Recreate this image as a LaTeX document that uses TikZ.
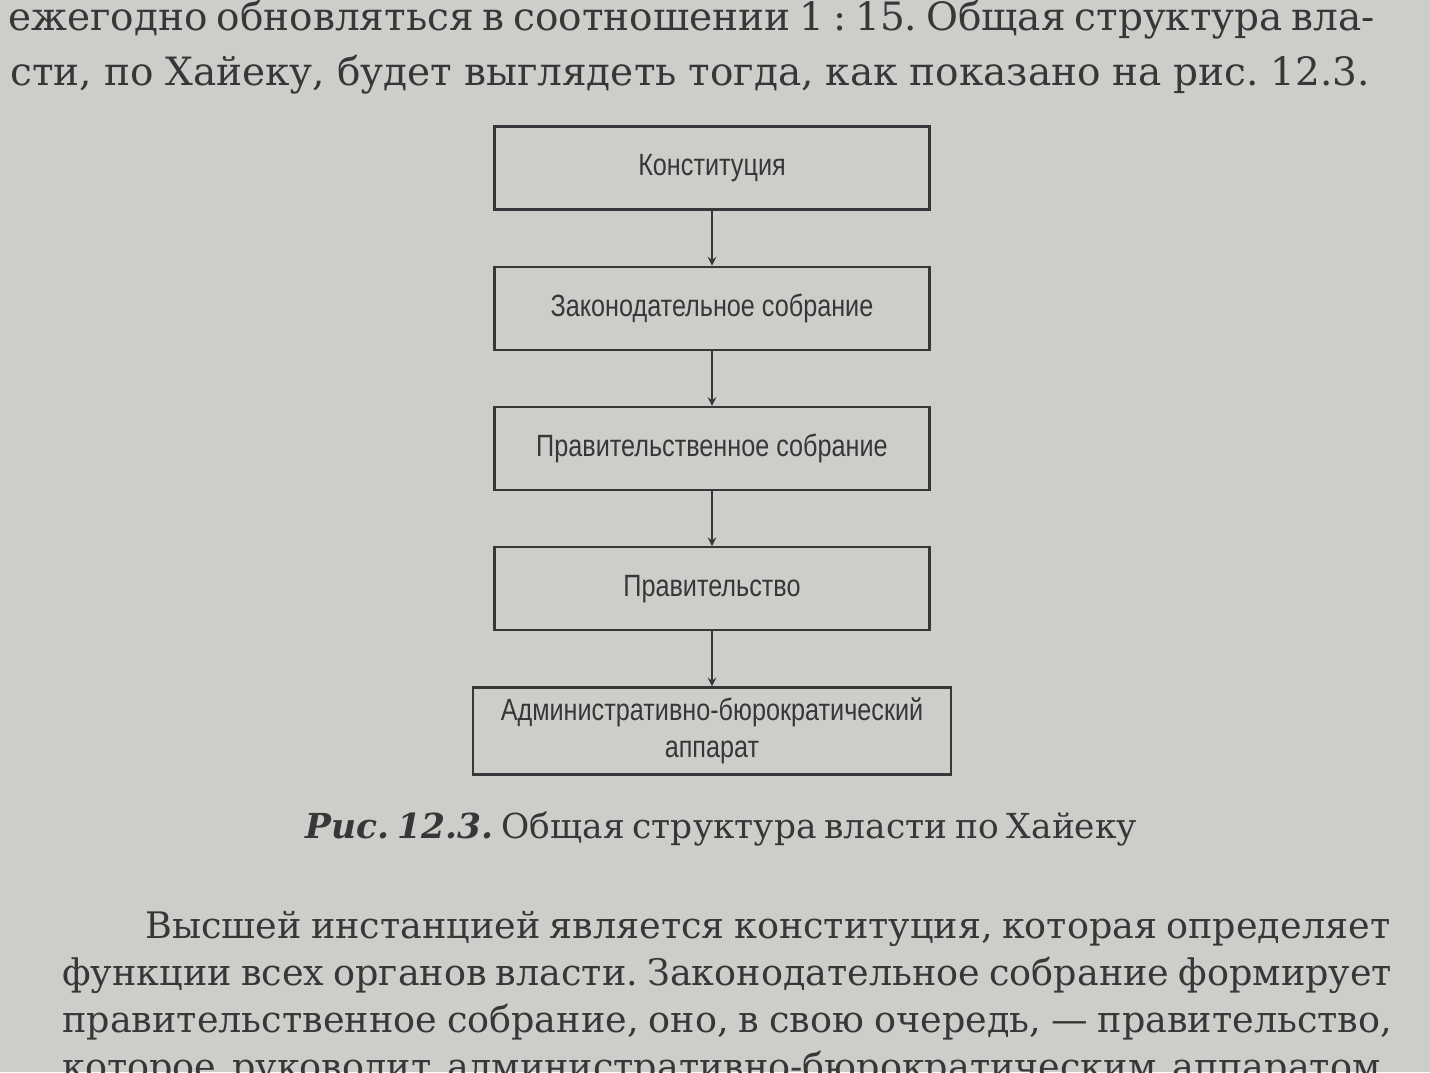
\documentclass[tikz,border=0pt]{standalone}
\usepackage{fontspec}
\setmainfont{DejaVu Serif}
\newfontfamily\schemefont[FakeStretch=0.82]{Liberation Sans}
\usetikzlibrary{positioning,arrows}
\definecolor{paper}{RGB}{205,206,202}
\definecolor{ink}{RGB}{55,55,58}
\newcommand{\bookline}[2]{\hbox to #1{#2}}
\frenchspacing

\begin{document}
\begin{tikzpicture}[x=0.02cm,y=-0.02cm,node distance=1.1cm,
	box/.style={draw=ink,line width=1.3pt,minimum width=8.7cm,minimum height=1.66cm,
		inner sep=0pt,align=center,text=ink,font=\schemefont\fontsize{17.5}{21}\selectfont},
	txt/.style={anchor=base west,inner sep=0pt,text=ink,font=\fontsize{20.8}{25}\selectfont}]
	\fill[paper] (0,0) rectangle (1430,1072);
	\useasboundingbox (0,0) rectangle (1430,1072);
	% text above the figure
	\node[txt,font=\fontsize{22.2}{27}\selectfont] (top1) at (8,30) {\bookline{27.34cm}{ежегодно обновляться в соотношении 1 : 15. Общая структура вла-}};
	\node[txt,font=\fontsize{22.2}{27}\selectfont] (top2) at (10,85) {\bookline{27.2cm}{сти, по Хайеку, будет выглядеть тогда, как показано на рис. 12.3.}};
	% the scheme
	\node[box] (konst) at (712,168) {Конституция};
	\node[box,below=of konst] (zakon) {Законодательное собрание};
	\node[box,below=of zakon] (pravsob) {Правительственное собрание};
	\node[box,below=of pravsob] (prav) {Правительство};
	\node[box,below=of prav,minimum width=9.56cm,minimum height=1.74cm] (apparat) {Административно-бюрократический\\ аппарат};
	\path[-stealth,ink,line width=1.2pt]
	(konst) edge (zakon)
	(zakon) edge (pravsob)
	(pravsob) edge (prav)
	(prav) edge (apparat);
	% caption and text below
	\node[txt,font=\fontsize{19.6}{24}\selectfont] (caption) at (305,838) {\bookline{16.64cm}{\textbf{\textit{Рис. 12.3.}} Общая структура власти по Хайеку}};
	\node[txt] (bot1) at (145,938) {\bookline{24.9cm}{Высшей инстанцией является конституция, которая определяет}};
	\node[txt] (bot2) at (62,985) {\bookline{26.6cm}{функции всех органов власти. Законодательное собрание формирует}};
	\node[txt] (bot3) at (62,1032) {\bookline{26.6cm}{правительственное собрание, оно, в свою очередь, — правительство,}};
	\node[txt] (bot4) at (62,1079) {\bookline{26.6cm}{которое руководит административно-бюрократическим аппаратом.}};
\end{tikzpicture}
\end{document}
